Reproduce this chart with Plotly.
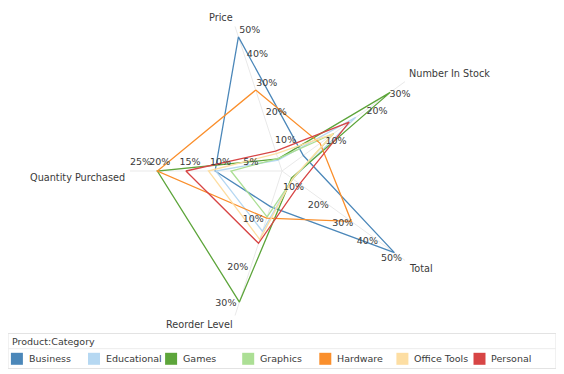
import math
import plotly.graph_objects as go

# ---------------- data ----------------
axis_names = ["Price", "Number In Stock", "Total", "Reorder Level", "Quantity Purchased"]
axis_max = [50, 30, 50, 30, 25]
axis_ticks = [[10, 20, 30, 40, 50], [10, 20, 30], [10, 20, 30, 40, 50], [10, 20, 30], [5, 10, 15, 20, 25]]

categories = ["Business", "Educational", "Games", "Graphics", "Hardware", "Office Tools", "Personal"]
business = [46.4, 5.2, 45.7, 7.4, 11.0]
educational = [3.8, 18.0, 4.3, 12.5, 10.9]
games = [4.2, 26.4, 3.9, 27.2, 20.5]
graphics = [4.3, 12.6, 4.4, 9.5, 8.4]
hardware = [28.0, 9.3, 28.2, 9.8, 20.5]
office_tools = [6.0, 12.5, 4.3, 14.2, 12.1]
personal = [6.9, 16.4, 7.2, 15.0, 15.8]
series_values = [business, educational, games, graphics, hardware, office_tools, personal]

colors = ["#4b87b9", "#b6d8f2", "#5da53b", "#acdf95", "#fa8f2c", "#fddea3", "#d74545"]

# ---------------- layout constants ----------------
# the page body has an 8px margin, so the figure starts at (8, 8) of the window
OFF = 8
VW, VH = 564, 374
W, H = VW - OFF, VH - OFF
CX, CY, R = 282.0, 171.0, 152.0                   # window pixel coords
axis_angles = [108, 36, 324, 252, 180]           # degrees, counter-clockwise from east
FONT = "DejaVu Sans"
FS = 9.5
TXT = "#3a3a3a"
tick_offsets = [(13, -1), (13, 0), (-13, -1), (-13, 0), (-0.7, -8.3)]
cat_place = [(-1, -9, "right"), (3, -8.4, "left"), (3, 8, "left"), (-1, 9.4, "right"), (-4, 6.7, "right")]


def px2x(px):
    return (px - OFF) / W


def py2y(py):
    return 1 - (py - OFF) / H


def to_polar(px, py):
    dx, dy = px - CX, CY - py
    return math.hypot(dx, dy) / R, math.degrees(math.atan2(dy, dx))


fig = go.Figure()

# series
for name, vals, col in zip(categories, series_values, colors):
    r = [v / m for v, m in zip(vals, axis_max)]
    fig.add_trace(go.Scatterpolar(
        r=r + [r[0]], theta=axis_angles + [axis_angles[0]], mode="lines",
        line=dict(color=col, width=1.3), name=name, showlegend=False,
        hoverinfo="skip"))

# tick labels
lab_r, lab_t, lab_s = [], [], []
for k, ticks in enumerate(axis_ticks):
    a = math.radians(axis_angles[k])
    d = (math.cos(a), -math.sin(a))
    for v in ticks:
        s = f"{v}%"
        t = v / axis_max[k] * R
        cx = CX + t * d[0] + tick_offsets[k][0]
        cy = CY + t * d[1] + tick_offsets[k][1]
        w = 21 if len(s) == 3 else 15
        e = w / 2 * abs(d[0]) + 11 / 2 * abs(d[1])
        proj = (cx - CX) * d[0] + (cy - CY) * d[1]
        if proj > R - e:
            ex = proj - (R - e)
            cx -= ex * d[0]
            cy -= ex * d[1]
        rr, th = to_polar(cx, cy)
        lab_r.append(rr)
        lab_t.append(th)
        lab_s.append(s)
fig.add_trace(go.Scatterpolar(
    r=lab_r, theta=lab_t, mode="text", text=lab_s, textposition="middle center",
    textfont=dict(family=FONT, size=FS, color=TXT), showlegend=False,
    hoverinfo="skip", cliponaxis=False))

# category labels
annotations = []
for k, name in enumerate(axis_names):
    a = math.radians(axis_angles[k])
    ex = CX + R * math.cos(a)
    ey = CY - R * math.sin(a)
    dx, dy, xa = cat_place[k]
    annotations.append(dict(
        x=px2x(ex + dx), y=py2y(ey + dy), xref="paper", yref="paper",
        text=name, showarrow=False, xanchor=xa, yanchor="middle",
        font=dict(family=FONT, size=FS + 0.2, color=TXT), borderpad=0))

# legend box
shapes = []
LX0, LX1, LY0, LY1, LSEP = 8, 556, 333.5, 368.5, 348.7
shapes.append(dict(type="rect", xref="paper", yref="paper",
                   x0=px2x(LX0), x1=px2x(LX1), y0=py2y(LY1), y1=py2y(LY0),
                   line=dict(color="#e3e3e3", width=1), fillcolor="rgba(0,0,0,0)"))
shapes.append(dict(type="line", xref="paper", yref="paper",
                   x0=px2x(LX0), x1=px2x(LX1), y0=py2y(LSEP), y1=py2y(LSEP),
                   line=dict(color="#ececec", width=1)))
annotations.append(dict(x=px2x(11), y=py2y(341.5), xref="paper", yref="paper",
                        text="Product:Category", showarrow=False, xanchor="left",
                        yanchor="middle", borderpad=0,
                        font=dict(family=FONT, size=FS, color=TXT)))
STEP = 77.1
for i, (name, col) in enumerate(zip(categories, colors)):
    x0 = 10.9 + i * STEP
    shapes.append(dict(type="rect", xref="paper", yref="paper",
                       x0=px2x(x0), x1=px2x(x0 + 12), y0=py2y(364.8), y1=py2y(352.8),
                       line=dict(width=0), fillcolor=col))
    annotations.append(dict(x=px2x(x0 + 17), y=py2y(358.8), xref="paper", yref="paper",
                            text=name, showarrow=False, xanchor="left", yanchor="middle",
                            borderpad=0, font=dict(family=FONT, size=FS, color=TXT)))

fig.update_layout(
    width=W, height=H, margin=dict(l=0, r=0, t=0, b=0),
    paper_bgcolor="white", showlegend=False,
    polar=dict(
        domain=dict(x=[px2x(CX - R), px2x(CX + R)], y=[py2y(CY + R), py2y(CY - R)]),
        bgcolor="white",
        radialaxis=dict(range=[0, 1], visible=False, showgrid=False, showline=False,
                        showticklabels=False, ticks=""),
        angularaxis=dict(thetaunit="degrees", rotation=0, direction="counterclockwise",
                         tickmode="array", tickvals=axis_angles, showticklabels=False,
                         ticks="", showgrid=True, gridcolor="#e9e9e9", gridwidth=1,
                         showline=False),
    ),
    annotations=annotations, shapes=shapes,
)

fig.write_html("out.html")
